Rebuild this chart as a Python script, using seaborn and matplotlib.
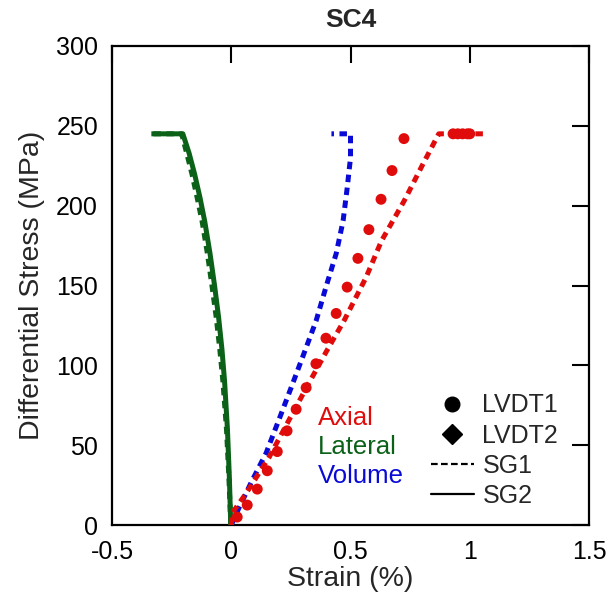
import numpy as np
import pandas as pd
import seaborn as sns
import matplotlib.pyplot as plt
from matplotlib.lines import Line2D

# Axial SG1 (dashed)
axial_sg1_x = [0.0, 0.004, 0.063, 0.159, 0.243, 0.326, 0.40, 0.473, 0.565, 0.63, 0.725, 0.80, 0.87, 0.95, 1.07]
axial_sg1_y = [0, 7.5, 20, 42.5, 66, 89, 109, 128, 155, 178, 203, 225, 245, 245, 245]

# Axial LVDT1 (circles)
axial_lvdt1_x = [0.025, 0.067, 0.109, 0.151, 0.193, 0.234, 0.272, 0.314, 0.355, 0.397, 0.44, 0.486, 0.531, 0.577, 0.628, 0.674, 0.724,
                 0.93, 0.95, 0.97, 0.99, 1.0]
axial_lvdt1_y = [5, 12.5, 22.5, 34, 46, 59, 72.5, 86, 101, 117, 132.5, 149, 167, 185, 204, 222, 242,
                 245, 245, 245, 245, 245]

# Volume SG1 (dashed)
volume_sg1_x = [0.0, 0.033, 0.088, 0.146, 0.20, 0.251, 0.305, 0.356, 0.397, 0.44, 0.469, 0.486, 0.50, 0.50, 0.42]
volume_sg1_y = [0, 11, 28, 45, 66, 86, 107.5, 128, 149, 170, 190.6, 211, 230, 245, 245]

# Lateral SG2 (solid)
lateral_sg2_x = [-0.002, -0.008, -0.016, -0.028, -0.039, -0.053, -0.070, -0.089, -0.111, -0.131, -0.154, -0.177, -0.203, -0.335]
lateral_sg2_y = [0, 30, 60, 90, 110, 130, 150, 170, 190, 205, 220, 233, 245, 245]

# Lateral SG1 (dashed)
lateral_sg1_x = [-0.002, -0.010, -0.020, -0.035, -0.048, -0.063, -0.081, -0.100, -0.122, -0.143, -0.165, -0.187, -0.208, -0.335]
lateral_sg1_y = [0, 30, 60, 90, 110, 130, 150, 170, 190, 205, 220, 233, 245, 245]

RED = "#e00b0b"
GREEN = "#0b6118"
BLUE = "#0a0ad6"

sns.set_theme(style="white")
plt.rcParams['font.family'] = ['Liberation Sans', 'DejaVu Sans']

fig = plt.figure(figsize=(6.09, 5.95), dpi=100)
ax = fig.add_axes([0.1839, 0.1176, 0.9672 - 0.1839, 0.9227 - 0.1176])

dash = (1.5, 1.1)
lw = 3.6

def draw_line(x, y, color, dashed):
    df = pd.DataFrame({"x": x, "y": y})
    sns.lineplot(data=df, x="x", y="y", ax=ax, sort=False, estimator=None,
                 color=color, lw=lw, zorder=3)
    line = ax.lines[-1]
    if dashed:
        line.set_dashes(dash)
    line.set_solid_capstyle('butt')
    line.set_dash_capstyle('butt')
    line.set_solid_joinstyle('round')

draw_line(lateral_sg2_x, lateral_sg2_y, GREEN, False)
draw_line(lateral_sg1_x, lateral_sg1_y, GREEN, True)
draw_line(volume_sg1_x, volume_sg1_y, BLUE, True)
draw_line(axial_sg1_x, axial_sg1_y, RED, True)

df_c = pd.DataFrame({"x": axial_lvdt1_x, "y": axial_lvdt1_y})
sns.scatterplot(data=df_c, x="x", y="y", ax=ax, color=RED, s=62, edgecolor="none", zorder=4)

fs = 18
ax.set_xlim(-0.5, 1.5)
ax.set_ylim(0, 300)
ax.set_xticks([-0.5, 0, 0.5, 1, 1.5])
ax.set_xticklabels(["-0.5", "0", "0.5", "1", "1.5"])
ax.set_yticks(np.arange(0, 301, 50))
ax.set_xlabel("Strain (%)", fontsize=20.5, labelpad=2)
ax.set_ylabel("Differential Stress (MPa)", fontsize=20.5, labelpad=8)
ax.set_title("SC4", fontsize=19, fontweight="bold", pad=14)

ax.tick_params(direction="in", length=12, width=1.5, top=True, right=True,
               labelsize=fs, colors="black")
ax.tick_params(axis="x", pad=10.5)
ax.tick_params(axis="y", pad=10)
for s in ax.spines.values():
    s.set_linewidth(1.6)
    s.set_color("black")

ax.text(0.364, 67, "Axial", color=RED, fontsize=18.5, va="center")
ax.text(0.364, 48.8, "Lateral", color=GREEN, fontsize=18.5, va="center")
ax.text(0.364, 30.7, "Volume", color=BLUE, fontsize=18.5, va="center")

handles = [
    Line2D([], [], color="black", marker="o", linestyle="none", markersize=10.5),
    Line2D([], [], color="black", marker="D", linestyle="none", markersize=10.5),
    Line2D([], [], color="black", lw=1.6, linestyle=(0, (3, 1.5))),
    Line2D([], [], color="black", lw=1.6),
]
ax.legend(handles, ["LVDT1", "LVDT2", "SG1", "SG2"], loc="upper left",
          bbox_to_anchor=(0.669, 0.275), frameon=False, fontsize=fs,
          borderpad=0, borderaxespad=0, labelspacing=0.25, handlelength=1.7,
          handletextpad=0.35)

fig.savefig("out.png", dpi=100)
